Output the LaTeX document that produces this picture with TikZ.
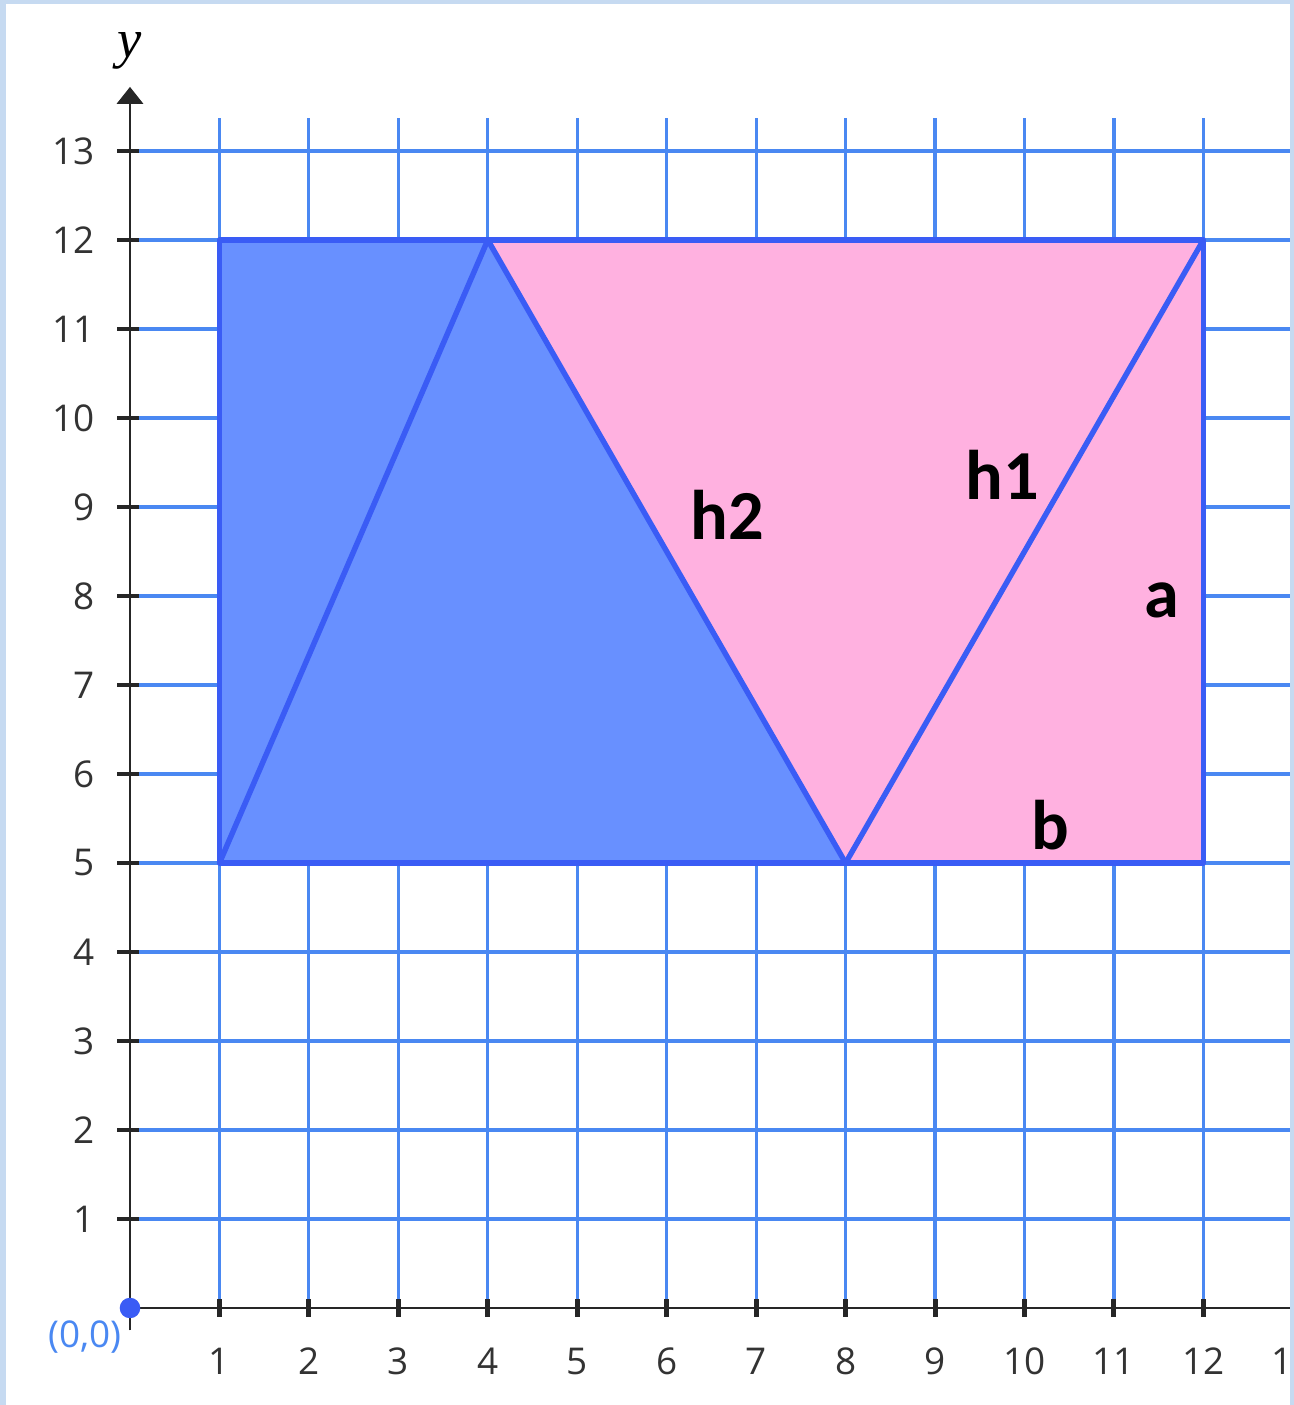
\documentclass[tikz,border=0pt]{standalone}
\usepackage{fontspec}
\setmainfont{Open Sans}
\newfontfamily\calib{Carlito}
\usetikzlibrary{arrows.meta}
\definecolor{gridblue}{HTML}{4A88F2}
\definecolor{edgeblue}{HTML}{3A5CF5}
\definecolor{fillblue}{HTML}{6890FF}
\definecolor{fillpink}{HTML}{FFB1E0}
\definecolor{framecol}{HTML}{C6DAF1}
\definecolor{ticktext}{HTML}{333333}
\tikzset{
  gridline/.style={draw=gridblue, line width=1.8pt},
  edgeline/.style={draw=edgeblue, line width=3.1pt, line join=round},
  axisline/.style={draw=black!85, line width=1.7pt},
  tickmark/.style={draw=black!85, line width=2.8pt},
  ticklabel/.style={text=ticktext, font=\fontsize{21}{24}\selectfont, inner sep=0pt},
  partlabel/.style={font=\calib\bfseries\fontsize{40}{44}\selectfont, inner sep=0pt}
}
\begin{document}
\begin{tikzpicture}[x=1.789cm, y=1.78cm]
\useasboundingbox (-1.4533,-1.0899) rectangle (13.013,14.697);
\fill[white] (-1.4533,-1.0899) rectangle (13.013,14.697);
% grid
\foreach \i in {1,...,13} \draw[gridline] (0,\i) -- (13.1,\i);
\foreach \i in {1,...,12} \draw[gridline] (\i,0) -- (\i,13.37);
% shapes
\coordinate (A) at (1,5);
\coordinate (B) at (1,12);
\coordinate (C) at (4,12);
\coordinate (D) at (12,12);
\coordinate (E) at (12,5);
\coordinate (F) at (8,5);
\fill[fillblue] (A) -- (B) -- (C) -- (F) -- cycle;
\fill[fillpink] (C) -- (D) -- (E) -- (F) -- cycle;
\draw[edgeline] (A) -- (B) -- (D) -- (E) -- cycle;
\draw[edgeline] (A) -- (C);
\draw[edgeline] (C) -- (F);
\draw[edgeline] (F) -- (D);
% axes
\coordinate (O) at (0,0);
\coordinate (ytop) at (0,13.72);
\coordinate (xend) at (13.1,0);
\draw[axisline] (0,-0.25) -- (0,13.55);
\draw[axisline] (O) -- (xend);
\fill[black!85] (ytop) -- (-0.15,13.53) -- (0.15,13.53) -- cycle;
\foreach \i in {1,...,13} {
  \draw[tickmark] (-0.14,\i) -- (0.1,\i);
  \node[ticklabel, anchor=east] at (-0.39,\i) {\i};
}
\foreach \i in {1,...,13} {
  \draw[tickmark] (\i,-0.1) -- (\i,0.1);
  \node[ticklabel] at (\i,-0.6) {\i};
}
\fill[edgeblue] (O) circle (0.115);
\node[ticklabel, text=gridblue] (orig) at (-0.5,-0.33) {(0,0)};
\node[font=\fontspec{Liberation Serif}\itshape\fontsize{31}{34}\selectfont, inner sep=0pt] (ylab) at (0,14.12) {y};
% part labels
\node[partlabel] (h2) at (6.674,8.91) {h2};
\node[partlabel] (h1) at (9.748,9.36) {h1};
\node[partlabel] (a) at (11.537,7.955) {a};
\node[partlabel] (b) at (10.285,5.427) {b};
% frame
\fill[framecol] (-1.4533,-1.0899) rectangle (-1.386,14.697);
\fill[framecol] (-1.4533,14.652) rectangle (13.013,14.697);
\fill[framecol] (12.968,-1.0899) rectangle (13.013,14.697);
\end{tikzpicture}
\end{document}
